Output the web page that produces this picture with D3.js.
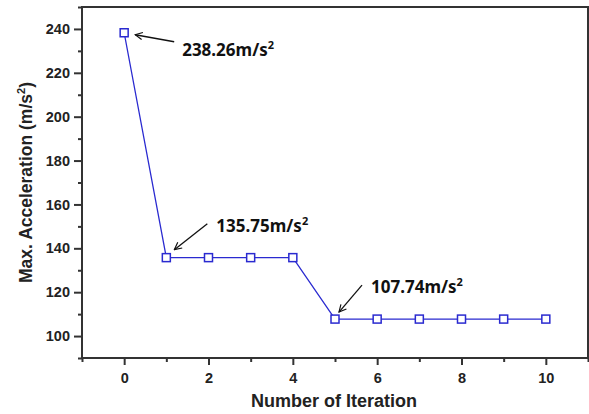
<!DOCTYPE html>
<html>
<head>
<meta charset="utf-8">
<script src="https://cdn.jsdelivr.net/npm/d3@7"></script>
<style>
  body { margin: 0; background: #fff; }
  svg { display: block; }
  .tick text { font-family: Arial, "Liberation Sans", sans-serif; font-weight: bold; font-size: 14.5px; fill: #222; }
</style>
</head>
<body>
<div id="chart"></div>
<script>
var iterations   = [0, 1, 2, 3, 4, 5, 6, 7, 8, 9, 10];
var acceleration = [238.26, 135.75, 135.75, 135.75, 135.75, 107.74, 107.74, 107.74, 107.74, 107.74, 107.74];
var yTicks       = [100, 120, 140, 160, 180, 200, 220, 240];
var xTicks       = [0, 2, 4, 6, 8, 10];
var notes        = [
  { i: 0, label: "238.26" },
  { i: 1, label: "135.75" },
  { i: 5, label: "107.74" }
];

var width  = 589;
var height = 414;
var margin = { top: 7, right: 1, bottom: 56, left: 82 };

var svg = d3.select("#chart").append("svg").attr("width", width).attr("height", height);

var x = d3.scaleLinear().domain([-1, 11]).range([margin.left, width - margin.right]);
var y = d3.scaleLinear().domain([90, 250]).range([height - margin.bottom, margin.top]);

var axisColor = "#333";

// frame
svg.append("rect")
  .attr("x", x(-1)).attr("y", y(250))
  .attr("width", x(11) - x(-1)).attr("height", y(90) - y(250))
  .attr("fill", "none").attr("stroke", axisColor).attr("stroke-width", 2);

// minor ticks
var xMinor = d3.range(-1, 12, 1).filter(function (d) { return xTicks.indexOf(d) < 0; });
var yMinor = d3.range(90, 251, 10).filter(function (d) { return yTicks.indexOf(d) < 0; });

function styleTicks(g) {
  g.select(".domain").remove();
  g.selectAll("line").attr("stroke", axisColor).attr("stroke-width", 2);
}

svg.append("g").attr("transform", "translate(0," + y(90) + ")")
  .call(d3.axisBottom(x).tickValues(xMinor).tickSize(4).tickFormat(""))
  .call(styleTicks);

svg.append("g").attr("transform", "translate(" + x(-1) + ",0)")
  .call(d3.axisLeft(y).tickValues(yMinor).tickSize(4).tickFormat(""))
  .call(styleTicks);

// major ticks
svg.append("g").attr("transform", "translate(0," + y(90) + ")")
  .call(d3.axisBottom(x).tickValues(xTicks).tickSize(7).tickPadding(8))
  .call(styleTicks);

svg.append("g").attr("transform", "translate(" + x(-1) + ",0)")
  .call(d3.axisLeft(y).tickValues(yTicks).tickSize(8).tickPadding(4))
  .call(styleTicks);

// axis titles
svg.append("text")
  .attr("x", 334).attr("y", 407)
  .attr("text-anchor", "middle")
  .style("font", "bold 18px Arial, 'Liberation Sans', sans-serif").attr("fill", "#222")
  .text("Number of Iteration");

var yt = svg.append("text")
  .attr("transform", "translate(32," + ((y(90) + y(250)) / 2) + ") rotate(-90)")
  .attr("text-anchor", "middle")
  .style("font", "bold 17.5px Arial, 'Liberation Sans', sans-serif").attr("fill", "#222");
yt.append("tspan").text("Max. Acceleration (m/s");
yt.append("tspan").attr("dy", -7).style("font-size", "11px").text("2");
yt.append("tspan").attr("dy", 7).text(")");

// line
var data = iterations.map(function (d, i) { return { x: d, y: acceleration[i] }; });
var lineColor = "#2a2ad0";

svg.append("path")
  .datum(data)
  .attr("fill", "none").attr("stroke", lineColor).attr("stroke-width", 1.3)
  .attr("d", d3.line().x(function (d) { return x(d.x); }).y(function (d) { return y(d.y); }));

svg.selectAll(".pt").data(data).enter().append("rect")
  .attr("class", "pt")
  .attr("x", function (d) { return x(d.x) - 4; })
  .attr("y", function (d) { return y(d.y) - 4; })
  .attr("width", 8).attr("height", 8)
  .attr("fill", "#fff").attr("stroke", lineColor).attr("stroke-width", 1.5);

// annotations (arrow offsets relative to the data point)
svg.append("defs").append("marker")
  .attr("id", "head").attr("viewBox", "0 0 10 10").attr("refX", 9).attr("refY", 5)
  .attr("markerWidth", 9).attr("markerHeight", 9).attr("orient", "auto").attr("markerUnits", "userSpaceOnUse")
  .append("path").attr("d", "M1,1 L9,5 L1,9").attr("fill", "none").attr("stroke", "#111").attr("stroke-width", 1.3);

var offsets = [
  { tail: [50, 9],   head: [11, 2],  text: [58, 23] },
  { tail: [41, -34], head: [8, -8],  text: [50, -26] },
  { tail: [27, -34], head: [4, -7],  text: [36, -26] }
];

notes.forEach(function (n, k) {
  var px = x(iterations[n.i]), py = y(acceleration[n.i]), o = offsets[k];
  svg.append("line")
    .attr("x1", px + o.tail[0]).attr("y1", py + o.tail[1])
    .attr("x2", px + o.head[0]).attr("y2", py + o.head[1])
    .attr("stroke", "#111").attr("stroke-width", 1.3).attr("marker-end", "url(#head)");
  var t = svg.append("text")
    .attr("x", px + o.text[0]).attr("y", py + o.text[1])
    .style("font", "bold 17px 'Noto Sans', 'Open Sans', sans-serif").attr("fill", "#111");
  t.append("tspan").text(n.label + "m/s");
  t.append("tspan").attr("dy", -7).style("font-size", "11px").text("2");
});
</script>
</body>
</html>
